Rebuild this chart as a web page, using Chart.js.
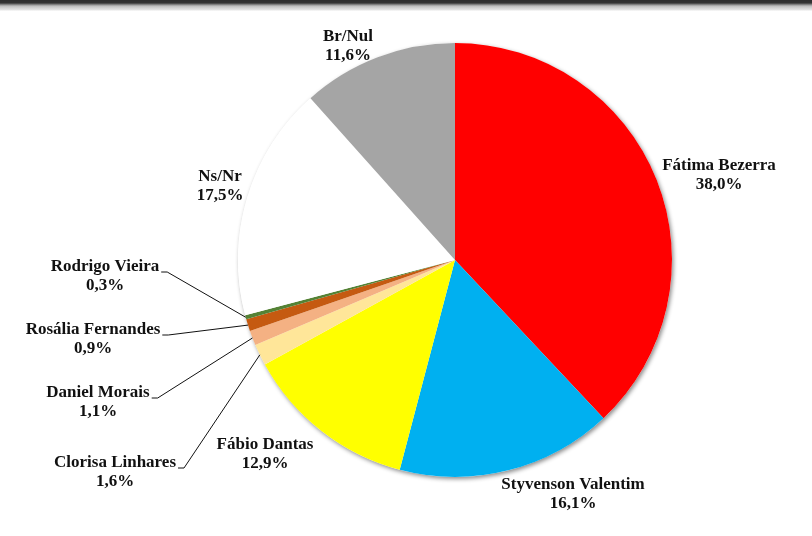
<!DOCTYPE html>
<html>
<head>
<meta charset="utf-8">
<script src="https://cdn.jsdelivr.net/npm/chart.js@4/dist/chart.umd.min.js"></script>
<style>
  html, body { margin: 0; padding: 0; background: #fff; }
  #wrap { position: relative; width: 812px; height: 536px; }
  #bar { position: absolute; left: 0; top: 0; width: 812px; height: 11px;
    background: linear-gradient(to bottom, #2e2e2e 0px, #343434 3px, #6a6a6a 4px, #bdbdbd 6px, #d4d4d4 8px, #e6e6e6 10px, #ffffff 11px); z-index: 2; }
  canvas { display: block; }
</style>
</head>
<body>
<div id="wrap">
  <div id="bar"></div>
  <canvas id="c" width="812" height="536"></canvas>
</div>
<script>
const categories = ["Fátima Bezerra", "Styvenson Valentim", "Fábio Dantas", "Clorisa Linhares", "Daniel Morais", "Rosália Fernandes", "Rodrigo Vieira", "Ns/Nr", "Br/Nul"];
const values = [38.0, 16.1, 12.9, 1.6, 1.1, 0.9, 0.3, 17.5, 11.6];
const valueLabels = ["38,0%", "16,1%", "12,9%", "1,6%", "1,1%", "0,9%", "0,3%", "17,5%", "11,6%"];
const colors = ["#FF0000", "#00B0F0", "#FFFF00", "#FFE699", "#F4B183", "#C55A11", "#548235", "#FFFFFF", "#A5A5A5"];

// label placement (text centre of first line), plus whether a leader line is drawn
const labelPlacement = [
  { x: 719, y: 166, leader: false },
  { x: 573, y: 485, leader: false },
  { x: 265, y: 445, leader: false },
  { x: 115, y: 463, leader: true },
  { x: 98,  y: 393, leader: true },
  { x: 93,  y: 330, leader: true },
  { x: 105, y: 267, leader: true },
  { x: 220, y: 177, leader: false },
  { x: 348, y: 37,  leader: false }
];

const FONT = 'bold 17px "Liberation Serif", "Times New Roman", serif';
const LINE_GAP = 19;

const shadowPlugin = {
  id: 'pieShadow',
  beforeDatasetsDraw(chart) {
    const arc = chart.getDatasetMeta(0).data[0];
    if (!arc) return;
    const ctx = chart.ctx;
    ctx.save();
    ctx.shadowColor = 'rgba(0,0,0,0.45)';
    ctx.shadowBlur = 4;
    ctx.shadowOffsetX = 1.5;
    ctx.shadowOffsetY = 2;
    ctx.fillStyle = '#ffffff';
    ctx.beginPath();
    ctx.arc(arc.x, arc.y, arc.outerRadius, 0, Math.PI * 2);
    ctx.fill();
    ctx.restore();
  }
};

const labelPlugin = {
  id: 'sliceLabels',
  afterDatasetsDraw(chart) {
    const ctx = chart.ctx;
    const meta = chart.getDatasetMeta(0);
    ctx.save();
    ctx.font = FONT;
    ctx.fillStyle = '#111';
    ctx.textAlign = 'center';
    ctx.textBaseline = 'middle';
    meta.data.forEach((arc, i) => {
      const p = labelPlacement[i];
      ctx.fillText(categories[i], p.x, p.y);
      ctx.fillText(valueLabels[i], p.x, p.y + LINE_GAP);
      if (p.leader) {
        const w = ctx.measureText(categories[i]).width;
        const sx = p.x + w / 2 + 2;
        const sy = p.y + 5;
        const mid = (arc.startAngle + arc.endAngle) / 2;
        const ex = arc.x + Math.cos(mid) * arc.outerRadius;
        const ey = arc.y + Math.sin(mid) * arc.outerRadius;
        ctx.strokeStyle = '#111';
        ctx.lineWidth = 1;
        ctx.beginPath();
        ctx.moveTo(sx, sy);
        ctx.lineTo(sx + 6, sy);
        ctx.lineTo(ex, ey);
        ctx.stroke();
      }
    });
    ctx.restore();
  }
};

new Chart(document.getElementById('c'), {
  type: 'pie',
  data: {
    labels: categories,
    datasets: [{
      data: values,
      backgroundColor: colors,
      borderWidth: 0,
      hoverOffset: 0
    }]
  },
  options: {
    responsive: false,
    animation: false,
    layout: { padding: { top: 43, bottom: 59, left: 238, right: 140 } },
    plugins: {
      legend: { display: false },
      tooltip: { enabled: false }
    }
  },
  plugins: [shadowPlugin, labelPlugin]
});
</script>
</body>
</html>
